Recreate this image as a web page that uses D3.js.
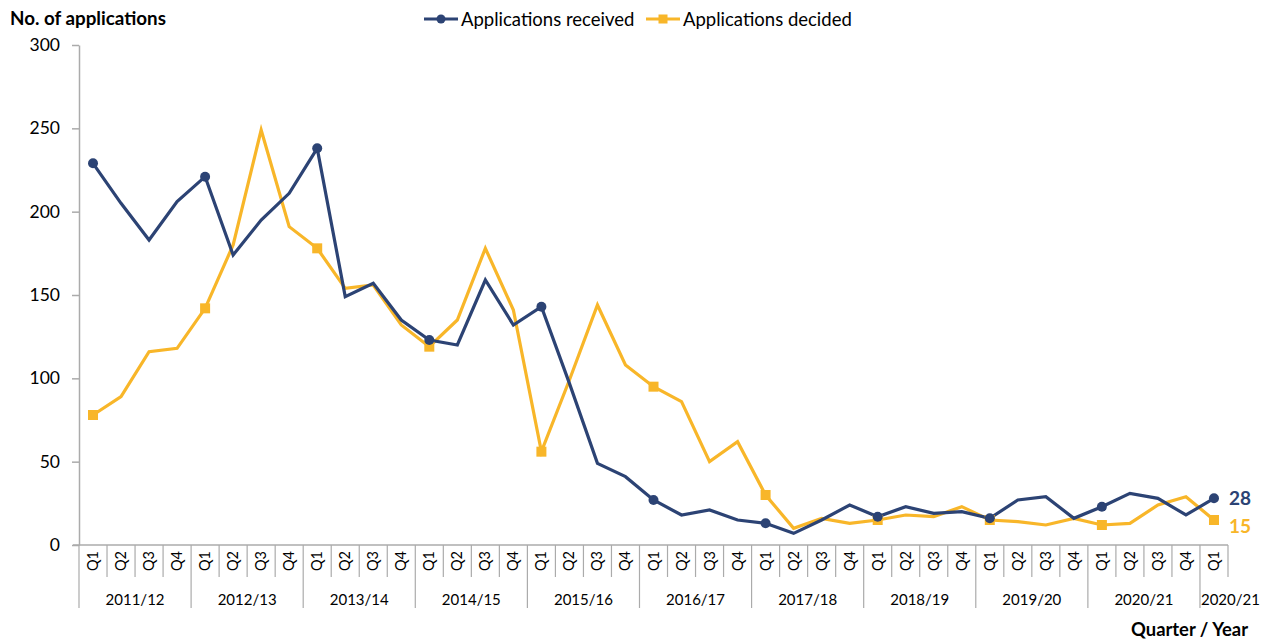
<!DOCTYPE html>
<html>
<head>
<meta charset="utf-8">
<script src="https://cdn.jsdelivr.net/npm/d3@7"></script>
<style>
  html, body { margin: 0; padding: 0; background: #ffffff; }
  svg { display: block; font-family: Lato, "Open Sans", sans-serif; }
</style>
</head>
<body>
<svg id="chart" width="1268" height="639"></svg>
<script>
// ---- data ----
const years = ["2011/12","2012/13","2013/14","2014/15","2015/16","2016/17","2017/18","2018/19","2019/20","2020/21","2020/21"];
const quartersPerYear = [4,4,4,4,4,4,4,4,4,4,1];
const quarterNames = ["Q1","Q2","Q3","Q4"];
const received = [229,205,183,206, 221,174,195,211, 238,149,157,135, 123,120,159,132, 143,97,49,41, 27,18,21,15, 13,7,15,24, 17,23,19,20, 16,27,29,16, 23,31,28,18, 28];
const decided  = [78,89,116,118, 142,180,249,191, 178,154,156,132, 119,135,178,141, 56,99,144,108, 95,86,50,62, 30,10,16,13, 15,18,17,23, 15,14,12,16, 12,13,24,29, 15];
const yTicks = [0,50,100,150,200,250,300];
const seriesNames = ["Applications received","Applications decided"];
const endLabels = ["28","15"];

(function () {
// ---- build categories ----
const cats = [];
years.forEach((yr, yi) => {
  for (let q = 0; q < quartersPerYear[yi]; q++) cats.push({ id: yi + "-" + q, year: yr, yi: yi, q: quarterNames[q] });
});

const navy = "#2C4374", gold = "#F8B629", axisGray = "#ABABAB";
const svg = d3.select("#chart");
const pL = 79, pR = 1228, pT = 45, pB = 545;

const x = d3.scaleBand().domain(cats.map(c => c.id)).range([pL, pR]).paddingInner(0).paddingOuter(0);
const y = d3.scaleLinear().domain([0, 300]).range([pB, pT]);
const cx = id => x(id) + x.bandwidth() / 2;

// y axis
const yAxis = d3.axisLeft(y).tickValues(yTicks).tickSize(7).tickPadding(12).tickSizeOuter(0);
const gy = svg.append("g").attr("transform", `translate(${pL},0)`).call(yAxis);
gy.select(".domain").attr("stroke", axisGray).attr("stroke-width", 1.5);
gy.selectAll(".tick line").attr("stroke", axisGray).attr("stroke-width", 1.5);
gy.selectAll(".tick text").attr("font-size", 17.5).attr("fill", "#000").attr("font-family", "Lato, sans-serif");

// x axis line
svg.append("line").attr("x1", pL - 6).attr("x2", pR).attr("y1", pB).attr("y2", pB)
  .attr("stroke", axisGray).attr("stroke-width", 1.5);

// quarter ticks (band boundaries)
const boundaries = cats.map(c => x(c.id)).concat([pR]);
svg.append("g").selectAll("line").data(boundaries).join("line")
  .attr("x1", d => d).attr("x2", d => d).attr("y1", pB).attr("y2", 577)
  .attr("stroke", axisGray).attr("stroke-width", 1.2);

// year dividers
const yearStarts = [];
cats.forEach((c, i) => { if (i === 0 || cats[i-1].yi !== c.yi) yearStarts.push(x(c.id)); });
svg.append("g").selectAll("line").data(yearStarts).join("line")
  .attr("x1", d => d).attr("x2", d => d).attr("y1", 577).attr("y2", 608)
  .attr("stroke", axisGray).attr("stroke-width", 1.2);

// quarter labels (rotated)
svg.append("g").selectAll("text").data(cats).join("text")
  .attr("transform", d => `translate(${cx(d.id) + 5},561) rotate(-90)`)
  .attr("text-anchor", "middle").attr("font-size", 14.5).attr("fill", "#000")
  .text(d => d.q);

// year labels
const yearGroups = years.map((yr, yi) => {
  const members = cats.filter(c => c.yi === yi);
  const x0 = x(members[0].id), x1 = x(members[members.length - 1].id) + x.bandwidth();
  return { yr, x0, x1 };
});
svg.append("g").selectAll("text").data(yearGroups).join("text")
  .attr("x", d => (d.x1 - d.x0) < 60 ? d.x0 + 1 : (d.x0 + d.x1) / 2)
  .attr("text-anchor", d => (d.x1 - d.x0) < 60 ? "start" : "middle")
  .attr("y", 605).attr("font-size", 15).attr("fill", "#000")
  .text(d => d.yr);

// lines
const line = d3.line().x((d, i) => cx(cats[i].id)).y(d => y(d));
svg.append("path").datum(decided).attr("d", line).attr("fill", "none")
  .attr("stroke", gold).attr("stroke-width", 3.2).attr("stroke-linejoin", "miter");
svg.append("path").datum(received).attr("d", line).attr("fill", "none")
  .attr("stroke", navy).attr("stroke-width", 3.2).attr("stroke-linejoin", "miter");

// markers on Q1 points
const q1Idx = cats.map((c, i) => c.q === "Q1" ? i : -1).filter(i => i >= 0);
svg.append("g").selectAll("rect").data(q1Idx).join("rect")
  .attr("x", i => cx(cats[i].id) - 5).attr("y", i => y(decided[i]) - 5)
  .attr("width", 10).attr("height", 10).attr("fill", gold);
svg.append("g").selectAll("circle").data(q1Idx).join("circle")
  .attr("cx", i => cx(cats[i].id)).attr("cy", i => y(received[i]))
  .attr("r", 5).attr("fill", navy);

// end labels
const lastI = cats.length - 1;
svg.append("text").attr("x", 1229).attr("y", y(received[lastI]) + 7)
  .attr("font-size", 19).attr("font-weight", "bold").attr("fill", navy).text(endLabels[0]);
svg.append("text").attr("x", 1229).attr("y", y(decided[lastI]) + 13)
  .attr("font-size", 19).attr("font-weight", "bold").attr("fill", gold).text(endLabels[1]);

// title
svg.append("text").attr("x", 10).attr("y", 25).attr("font-size", 18.8).attr("font-weight", "bold")
  .attr("fill", "#000").text("No. of applications");

// axis title
svg.append("text").attr("x", 1248).attr("y", 636).attr("text-anchor", "end")
  .attr("font-size", 18.4).attr("font-weight", "bold").attr("fill", "#000").text("Quarter / Year");

// legend
const lg = svg.append("g");
const legendItems = [
  { name: seriesNames[0], color: navy, shape: "circle", x: 424, tx: 461 },
  { name: seriesNames[1], color: gold, shape: "square", x: 646, tx: 683 }
];
legendItems.forEach(it => {
  lg.append("line").attr("x1", it.x).attr("x2", it.x + 34).attr("y1", 19).attr("y2", 19)
    .attr("stroke", it.color).attr("stroke-width", 3.2);
  if (it.shape === "circle") lg.append("circle").attr("cx", it.x + 17).attr("cy", 19).attr("r", 4.5).attr("fill", it.color);
  else lg.append("rect").attr("x", it.x + 12.5).attr("y", 14.5).attr("width", 9).attr("height", 9).attr("fill", it.color);
  lg.append("text").attr("x", it.tx).attr("y", 25.5).attr("font-size", 18.5).attr("fill", "#000").text(it.name);
});
})();
</script>
</body>
</html>
